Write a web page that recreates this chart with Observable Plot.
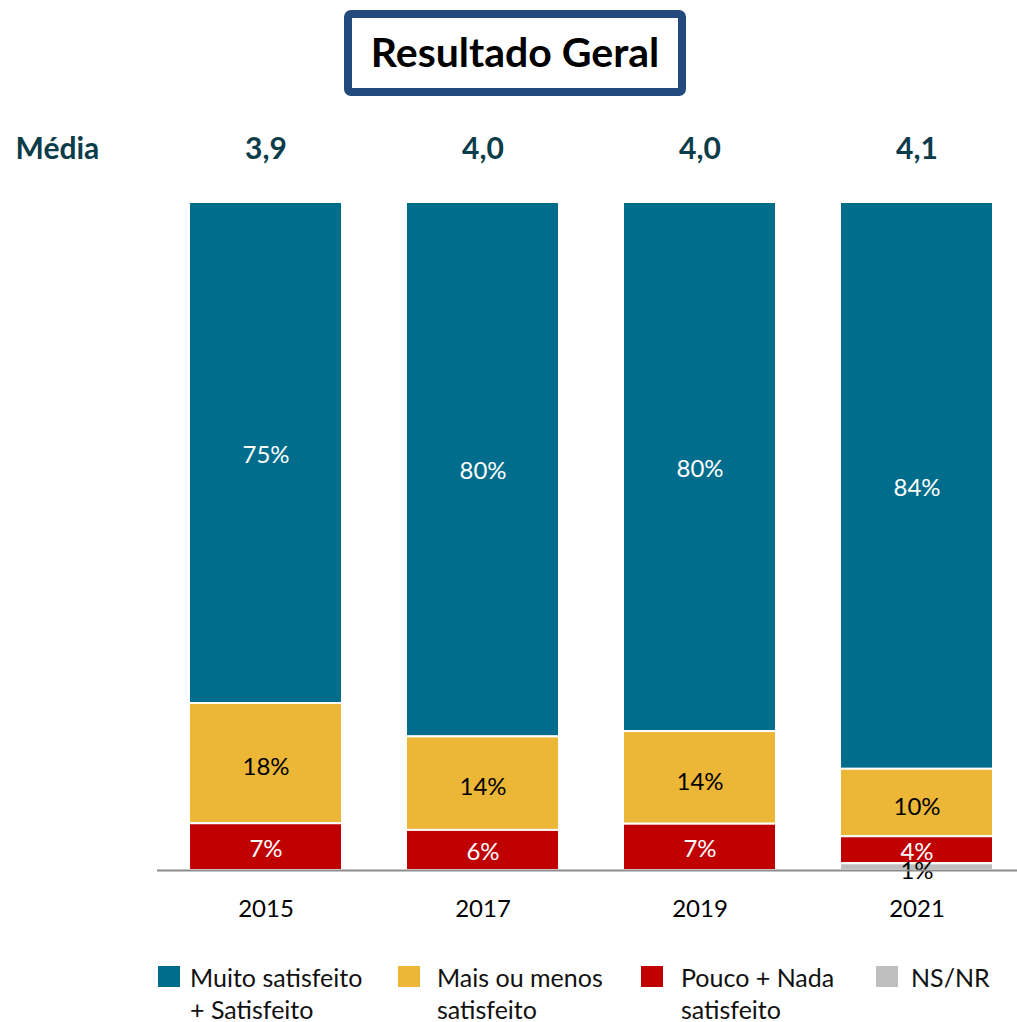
<!DOCTYPE html>
<html><head><meta charset="utf-8">
<script src="https://cdn.jsdelivr.net/npm/d3@7"></script>
<script src="https://cdn.jsdelivr.net/npm/@observablehq/plot@0.6"></script>
<style>
body{margin:0;background:#fff;font-family:Lato,"Open Sans",sans-serif;}
#wrap{position:relative;width:1017px;height:1022px;}
#title{position:absolute;left:344px;top:10px;width:326px;height:67px;border:8px solid #234A7C;border-radius:7px;display:flex;align-items:center;justify-content:center;font-weight:bold;font-size:41px;color:#000;padding-bottom:3px;box-sizing:content-box;}
#chart{position:absolute;left:0;top:100px;}
#legend{position:absolute;top:961px;left:0;width:1017px;font-size:25px;color:#111;}
.item{position:absolute;display:flex;align-items:flex-start;line-height:32px;}
.sw{width:22px;height:21px;margin-top:5px;}
</style></head>
<body><div id="wrap"><div id="title">Resultado Geral</div><div id="chart"></div><div id="legend"></div></div>
<script>
const years = ["2015","2017","2019","2021"];
const media = ["3,9","4,0","4,0","4,1"];
const categories = ["Muito satisfeito + Satisfeito","Mais ou menos satisfeito","Pouco + Nada satisfeito","NS/NR"];
const legendLines = [["Muito satisfeito","+ Satisfeito"],["Mais ou menos","satisfeito"],["Pouco + Nada","satisfeito"],["NS/NR"]];
const colors = ["#006D8C","#ECB737","#C00000","#BFBFBF"];
const muitoSatisfeito = [75,80,80,84];
const maisOuMenos = [18,14,14,10];
const poucoNada = [7,6,7,4];
const nsnr = [0,0,0,1];
const series = [muitoSatisfeito, maisOuMenos, poucoNada, nsnr];
const whiteLabel = [true,false,true,false];

const data = [];
years.forEach((y,i)=>categories.forEach((c,j)=>data.push({year:y,cat:c,value:series[j][i],white:whiteLabel[j]})));
const order = categories.slice().reverse();
const st = {x:"year", y:"value", z:"cat", order, offset:"normalize"};

const chart = Plot.plot({
  width:1017, height:840,
  marginTop:102, marginBottom:70, marginLeft:157, marginRight:0,
  x:{domain:years, paddingInner:0.297, paddingOuter:0.124, align:0.574, label:null, tickSize:0, tickPadding:29},
  y:{domain:[0,1], axis:null},
  color:{domain:categories, range:colors},
  style:{fontFamily:"Lato, 'Open Sans', sans-serif", fontSize:"24px", color:"#000", overflow:"visible"},
  marks:[
    Plot.barY(data, Plot.stackY({...st, fill:"cat", stroke:"white", strokeWidth:2})),
    Plot.text(data, Plot.stackY({...st, text:d=> d.white && d.value>0 ? d.value+"%" : "", fill:"white", fontSize:24, dy:2})),
    Plot.text(data, Plot.stackY({...st, text:d=> !d.white && d.value>0 ? d.value+"%" : "", fill:"#000", fontSize:24, dy:4})),
    Plot.ruleY([0], {stroke:"#8c8c8c", strokeWidth:2}),
    Plot.text(years, {x:d=>d, text:(d,i)=>media[i], frameAnchor:"top", dy:-65, fill:"#0B3C4A", fontWeight:"bold", fontSize:30}),
    Plot.text(["Média"], {frameAnchor:"top-left", dx:-142, dy:-65, textAnchor:"start", fill:"#0B3C4A", fontWeight:"bold", fontSize:30})
  ]
});
document.getElementById("chart").appendChild(chart);

const lefts = [158,398,641,876];
const gaps = [10,17,18,13];
const lg = document.getElementById("legend");
categories.forEach((c,i)=>{
  const it = document.createElement("div");
  it.className="item"; it.style.left=lefts[i]+"px";
  const sw=document.createElement("div"); sw.className="sw"; sw.style.background=colors[i];
  const tx=document.createElement("div"); tx.style.marginLeft=gaps[i]+"px";
  tx.innerHTML=legendLines[i].join("<br>");
  it.appendChild(sw); it.appendChild(tx); lg.appendChild(it);
});
</script></body></html>
